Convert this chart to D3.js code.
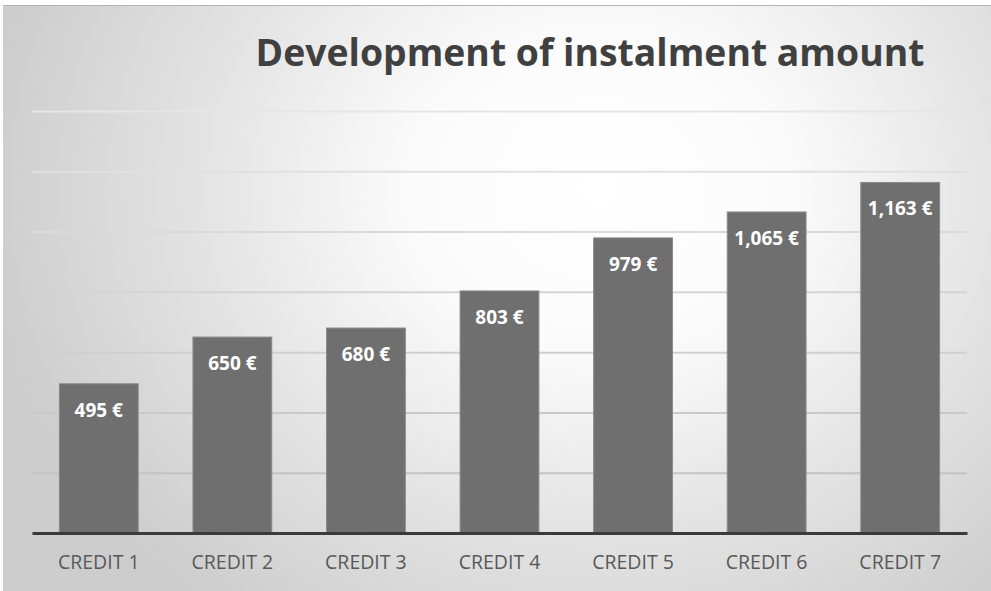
<!DOCTYPE html>
<html>
<head>
<meta charset="utf-8">
<script src="https://cdn.jsdelivr.net/npm/d3@7"></script>
<style>
  html, body { margin: 0; padding: 0; background: #ffffff; }
  svg { display: block; }
</style>
</head>
<body>
<svg id="chart" width="991" height="591"></svg>
<script>
// Instalment amounts per credit
const categories = ["CREDIT 1", "CREDIT 2", "CREDIT 3", "CREDIT 4", "CREDIT 5", "CREDIT 6", "CREDIT 7"];
const values = [495, 650, 680, 803, 979, 1065, 1163];
const gridTicks = [0, 200, 400, 600, 800, 1000, 1200, 1400];
const titleText = "Development of instalment amount";

const W = 991, H = 591;
const svg = d3.select("#chart");
const defs = svg.append("defs");

// Soft radial background, brightest near the upper middle
const bg = defs.append("radialGradient")
  .attr("id", "bgGrad")
  .attr("gradientUnits", "userSpaceOnUse")
  .attr("cx", 600).attr("cy", 190).attr("r", 620)
  .attr("gradientTransform", "translate(600,190) scale(1,0.85) translate(-600,-190)");
bg.append("stop").attr("offset", "0%").attr("stop-color", "#ffffff");
bg.append("stop").attr("offset", "30%").attr("stop-color", "#fbfbfb");
bg.append("stop").attr("offset", "65%").attr("stop-color", "#e3e3e3");
bg.append("stop").attr("offset", "100%").attr("stop-color", "#cdcdcd");

svg.append("rect")
  .attr("x", 3).attr("y", 5).attr("width", W - 3).attr("height", H - 5)
  .attr("fill", "url(#bgGrad)");
svg.append("line")
  .attr("x1", 3).attr("x2", W).attr("y1", 5.5).attr("y2", 5.5)
  .attr("stroke", "#b4b4b4").attr("stroke-width", 1);

const plot = { left: 32, right: 967, top: 111, bottom: 533 };

const x = d3.scaleBand()
  .domain(categories)
  .range([plot.left, plot.right])
  .paddingInner(0.41)
  .paddingOuter(0.205);

const y = d3.scaleLinear()
  .domain([0, 1400])
  .range([plot.bottom, plot.top]);

// Gridlines
const gridColor = d3.scaleLinear().domain([0, 1400]).range(["#bdbdbd", "#e6e6e6"]);
const gridAxis = d3.axisLeft(y).tickValues(gridTicks).tickSize(-(plot.right - plot.left)).tickFormat("");
const gridG = svg.append("g")
  .attr("transform", `translate(${plot.left},0)`)
  .call(gridAxis);
gridG.select(".domain").remove();
gridG.selectAll(".tick line")
  .attr("stroke", d => gridColor(d))
  .attr("stroke-width", 2);

// Bars
svg.append("g").selectAll("rect")
  .data(values)
  .join("rect")
  .attr("x", (d, i) => x(categories[i]))
  .attr("y", d => y(d))
  .attr("width", x.bandwidth())
  .attr("height", d => y(0) - y(d))
  .attr("fill", "#6f6f6f")
  .attr("stroke", "#8a8a8a")
  .attr("stroke-width", 1);

// Baseline and category axis
const xAxis = d3.axisBottom(x).tickSize(0).tickPadding(22);
const xg = svg.append("g")
  .attr("transform", `translate(0,${plot.bottom})`)
  .call(xAxis);
xg.select(".domain")
  .attr("stroke", "#3a3a3a").attr("stroke-width", 3);
xg.selectAll(".tick text")
  .attr("font-family", "'Open Sans', sans-serif")
  .attr("font-size", 19.5)
  .attr("fill", "#595959");

// Value labels inside the bar tops
const fmt = d3.format(",");
svg.append("g").selectAll("text")
  .data(values)
  .join("text")
  .attr("x", (d, i) => x(categories[i]) + x.bandwidth() / 2)
  .attr("y", d => y(d) + 33)
  .attr("text-anchor", "middle")
  .attr("font-family", "'Open Sans', sans-serif")
  .attr("font-weight", "bold")
  .attr("font-size", 19)
  .attr("fill", "#ffffff")
  .text(d => fmt(d) + " €");

// Title
const title = svg.append("text")
  .attr("x", 590)
  .attr("y", 66)
  .attr("text-anchor", "middle")
  .attr("font-family", "'Open Sans', sans-serif")
  .attr("font-weight", "bold")
  .attr("font-size", 38)
  .attr("fill", "#404040")
  .text(titleText);
const tw = title.node().getComputedTextLength();
title.attr("font-size", 38 * 669 / tw);
</script>
</body>
</html>
